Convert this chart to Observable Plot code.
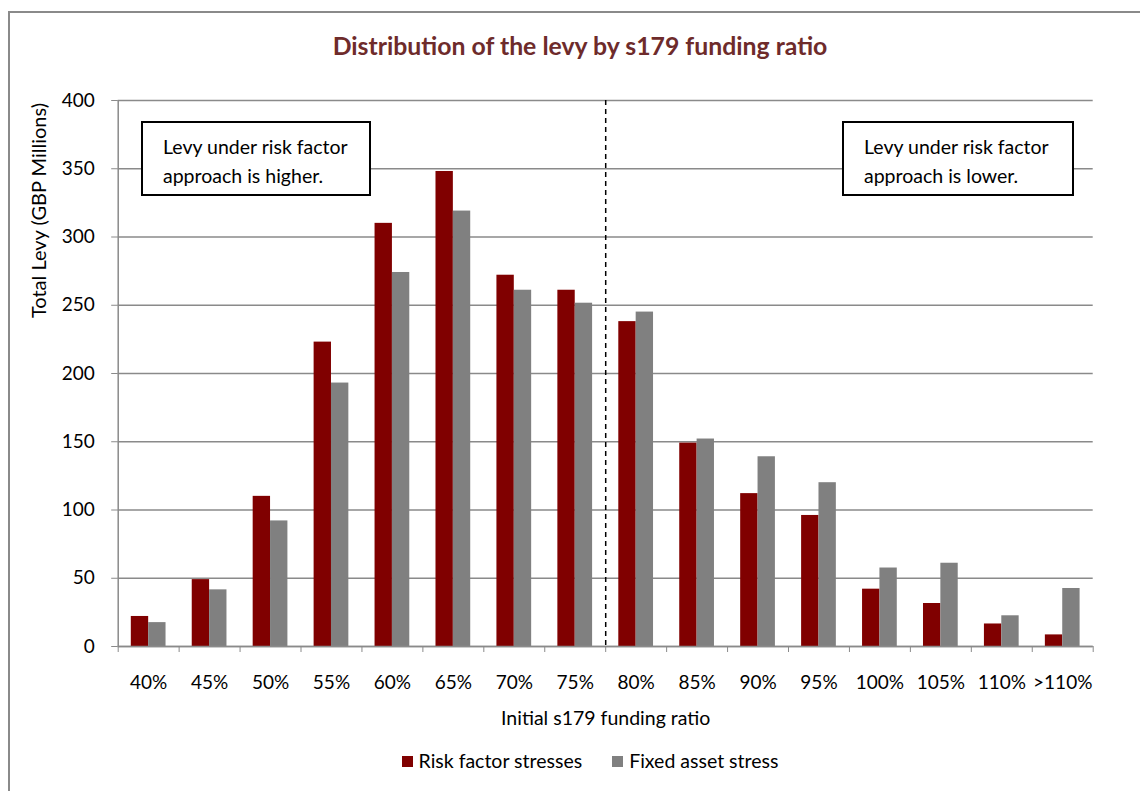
<!DOCTYPE html>
<html>
<head>
<meta charset="utf-8">
<script src="https://cdn.jsdelivr.net/npm/d3@7"></script>
<script src="https://cdn.jsdelivr.net/npm/@observablehq/plot@0.6"></script>
<style>
  html, body { margin: 0; padding: 0; background: #fff; }
  body { width: 1140px; height: 791px; overflow: hidden; position: relative; font-family: Lato, "Open Sans", sans-serif; }
  #frame { position: absolute; left: 8px; top: 11px; width: 1200px; height: 900px; border: 2px solid #8a8a8a; box-sizing: border-box; }
  #title { position: absolute; left: 0; top: 31px; width: 1160px; text-align: center; font-weight: bold; font-size: 24.8px; color: #6e2b2b; }
  #chart { position: absolute; left: 0; top: 80px; }
  .note { position: absolute; border: 2px solid #000; background: #fff; box-sizing: border-box; font-size: 19.5px; line-height: 29px; padding: 9px 0 0 20px; color: #000; white-space: nowrap; }
  #legend { position: absolute; top: 749px; left: 0; width: 1180px; text-align: center; font-size: 19.5px; color: #000; }
  #legend span.sw { display: inline-block; width: 11px; height: 11px; margin-right: 6px; vertical-align: 1px; }
  #legend span.item { margin: 0 15px; }
</style>
</head>
<body>
<div id="frame"></div>
<div id="title">Distribution of the levy by s179 funding ratio</div>
<div id="chart"></div>
<div class="note" style="left:141px; top:121px; width:230px; height:75px;">Levy under risk factor<br>approach is higher.</div>
<div class="note" style="left:842px; top:121px; width:232px; height:75px;">Levy under risk factor<br>approach is lower.</div>
<div id="legend"></div>
<script>
const categories = ["40%","45%","50%","55%","60%","65%","70%","75%","80%","85%","90%","95%","100%","105%","110%",">110%"];
const riskFactor = [22, 49, 110, 223, 310, 348, 272, 261, 238, 149, 112, 96, 42, 31.5, 16.5, 8.5];
const fixedAsset = [17.5, 41.5, 92, 193, 274, 319, 261, 251.5, 245, 152, 139, 120, 57.5, 61, 22.5, 42.5];
const seriesNames = ["Risk factor stresses", "Fixed asset stress"];
const seriesColors = ["#800000", "#808080"];
const yTicks = [0, 50, 100, 150, 200, 250, 300, 350, 400];
const dividerAfter = "75%";

const rows = categories.map((c, i) => ({cat: c, i, risk: riskFactor[i], fixed: fixedAsset[i]}));
const barW = 0.285;
const divIdx = categories.indexOf(dividerAfter) + 0.5;
const boundaries = d3.range(categories.length + 1).map(k => k - 0.5);

const plot = Plot.plot({
  width: 1140,
  height: 680,
  marginLeft: 117.7,
  marginRight: 47.3,
  marginTop: 20,
  marginBottom: 114,
  style: {fontFamily: "Lato, 'Open Sans', sans-serif", fontSize: "19px", color: "#000", background: "transparent"},
  x: {type: "linear", domain: [-0.5, categories.length - 0.5]},
  y: {domain: [0, 400]},
  marks: [
    Plot.gridY(yTicks, {stroke: "#8a8a8a", strokeOpacity: 1, strokeWidth: 1.5}),
    Plot.rectY(rows, {x1: d => d.i - barW, x2: d => d.i, y: "risk", fill: seriesColors[0]}),
    Plot.rectY(rows, {x1: d => d.i, x2: d => d.i + barW, y: "fixed", fill: seriesColors[1]}),
    Plot.ruleY([0], {stroke: "#8a8a8a", strokeWidth: 1.5}),
    Plot.ruleX([-0.5], {stroke: "#8a8a8a", strokeWidth: 1.5}),
    Plot.ruleX([divIdx], {stroke: "#000", strokeWidth: 1.5, strokeDasharray: "5,4"}),
    Plot.axisY({ticks: yTicks, tickSize: 6.5, tickPadding: 17, stroke: "#8a8a8a", label: null, fontSize: 19}),
    Plot.axisX({ticks: boundaries, tickSize: 6, tickFormat: () => "", stroke: "#8a8a8a", label: null}),
    Plot.axisX({ticks: d3.range(categories.length), tickSize: 0, tickPadding: 29, tickFormat: k => categories[k], label: null, fontSize: 19}),
    Plot.text(["Initial s179 funding ratio"], {frameAnchor: "bottom", dy: 78, dx: 0, fontSize: 19.5}),
    Plot.text(["Total Levy (GBP Millions)"], {frameAnchor: "top-left", rotate: -90, dx: -86, dy: 110, fontSize: 20, textAnchor: "middle"})
  ]
});
document.getElementById("chart").appendChild(plot);

const legend = document.getElementById("legend");
seriesNames.forEach((n, k) => {
  const item = document.createElement("span");
  item.className = "item";
  const sw = document.createElement("span");
  sw.className = "sw";
  sw.style.background = seriesColors[k];
  item.appendChild(sw);
  item.appendChild(document.createTextNode(n));
  legend.appendChild(item);
});
</script>
</body>
</html>
